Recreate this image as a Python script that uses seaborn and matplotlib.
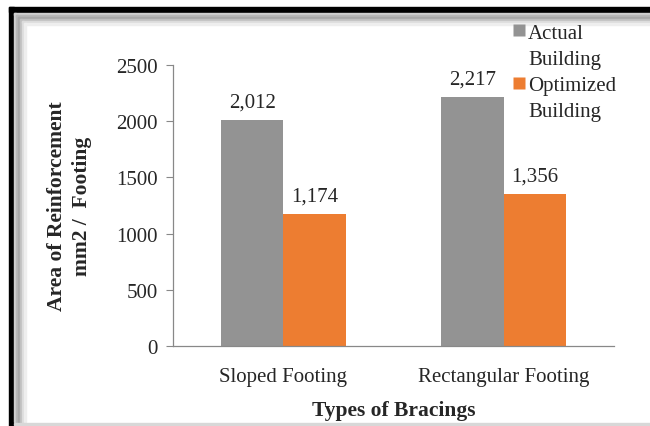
import matplotlib
matplotlib.use("Agg")
import matplotlib.pyplot as plt
from matplotlib.lines import Line2D
from matplotlib.patches import Rectangle
import seaborn as sns
import pandas as pd

categories = ["Sloped Footing", "Rectangular Footing"]
series_names = ["Actual\nBuilding", "Optimized\nBuilding"]
actual = [2012, 2217]
optimized = [1174, 1356]
yticks = [0, 500, 1000, 1500, 2000, 2500]

colors = ["#939393", "#ED7D31"]

df = pd.DataFrame({
    "cat": categories * 2,
    "series": [series_names[0]] * 2 + [series_names[1]] * 2,
    "value": actual + optimized,
})

sns.set_style("white")
plt.rcParams["font.family"] = ["Liberation Serif", "DejaVu Serif"]

fig = plt.figure(figsize=(6.5, 4.27), dpi=100)
W, H = 650, 427
ax = fig.add_axes([173 / W, 1 - 347 / H, (614 - 173) / W, (347 - 66) / H])

sns.barplot(data=df, x="cat", y="value", hue="series", palette=colors,
            width=0.565, ax=ax, legend=False, saturation=1, edgecolor="none")

for cont in ax.containers:
    labels = [f"{v:,.0f}" for v in cont.datavalues]
    ax.bar_label(cont, labels=labels, padding=6, fontsize=15)

ax.set_ylim(0, 2500)
ax.set_xlim(-0.5, 1.5)
ax.set_yticks(yticks)
ax.set_yticklabels([str(t) for t in yticks], fontsize=15)
ax.set_xticks(range(len(categories)))
ax.set_xticklabels(categories, fontsize=15)
ax.set_xticks([-0.5, 0.5, 1.5], minor=True)
ax.tick_params(axis="x", which="major", length=0, pad=15)
ax.tick_params(axis="x", which="minor", length=5, color="#888888", direction="out")
ax.tick_params(axis="y", length=5, color="#888888", direction="out", pad=6, left=True)
for s in ["top", "right"]:
    ax.spines[s].set_visible(False)
for s in ["left", "bottom"]:
    ax.spines[s].set_color("#888888")
    ax.spines[s].set_linewidth(0.9)

ax.set_xlabel("Types of Bracings", fontsize=15.5, fontweight="bold", labelpad=10)
ax.set_ylabel("Area of Reinforcement\nmm2 /  Footing", fontsize=15.5,
              fontweight="bold", labelpad=17, linespacing=1.35)

# legend: square aligned with first line of each label
handles, labels = [], []
for name, c in zip(series_names, colors):
    lines = name.split("\n")
    handles.append(Line2D([0], [0], marker="s", linestyle="none", markersize=8,
                          markerfacecolor=c, markeredgecolor="none"))
    labels.append(lines[0])
    for extra in lines[1:]:
        handles.append(Line2D([0], [0], linestyle="none", marker=None))
        labels.append(extra)
leg = fig.legend(handles, labels, loc="upper left",
                 bbox_to_anchor=(513 / W, 1 - 24 / H), frameon=False, fontsize=15,
                 handlelength=0.6, handletextpad=0.12, labelspacing=0.32,
                 borderaxespad=0, borderpad=0)

# outer frame
fz = 1
fig.patches.append(Rectangle((9 / W, 0), 4.5 / W, 1 - 8 / H, transform=fig.transFigure,
                             color="black", zorder=fz))
fig.patches.append(Rectangle((9 / W, 1 - 13 / H), 1 - 9 / W, 5 / H, transform=fig.transFigure,
                             color="black", zorder=fz))
greys = ["#d0d0d0", "#b8b8b8", "#a8a8a8", "#c0c0c0", "#dcdcdc", "#eeeeee"]
for i, g in enumerate(greys):
    x = (14 + i * 2) / W
    y = 1 - (14 + i * 2) / H
    fig.patches.append(Rectangle((x, 4 / H), 2 / W, y - 4 / H, transform=fig.transFigure,
                                 color=g, zorder=fz))
    fig.patches.append(Rectangle((x, y - 2 / H), 1 - x, 2 / H, transform=fig.transFigure,
                                 color=g, zorder=fz))
fig.patches.append(Rectangle((14 / W, 1 / H), 1 - 14 / W, 2 / H, transform=fig.transFigure,
                             color="#d8d8d8", zorder=fz))

fig.savefig("out.png", dpi=100)
